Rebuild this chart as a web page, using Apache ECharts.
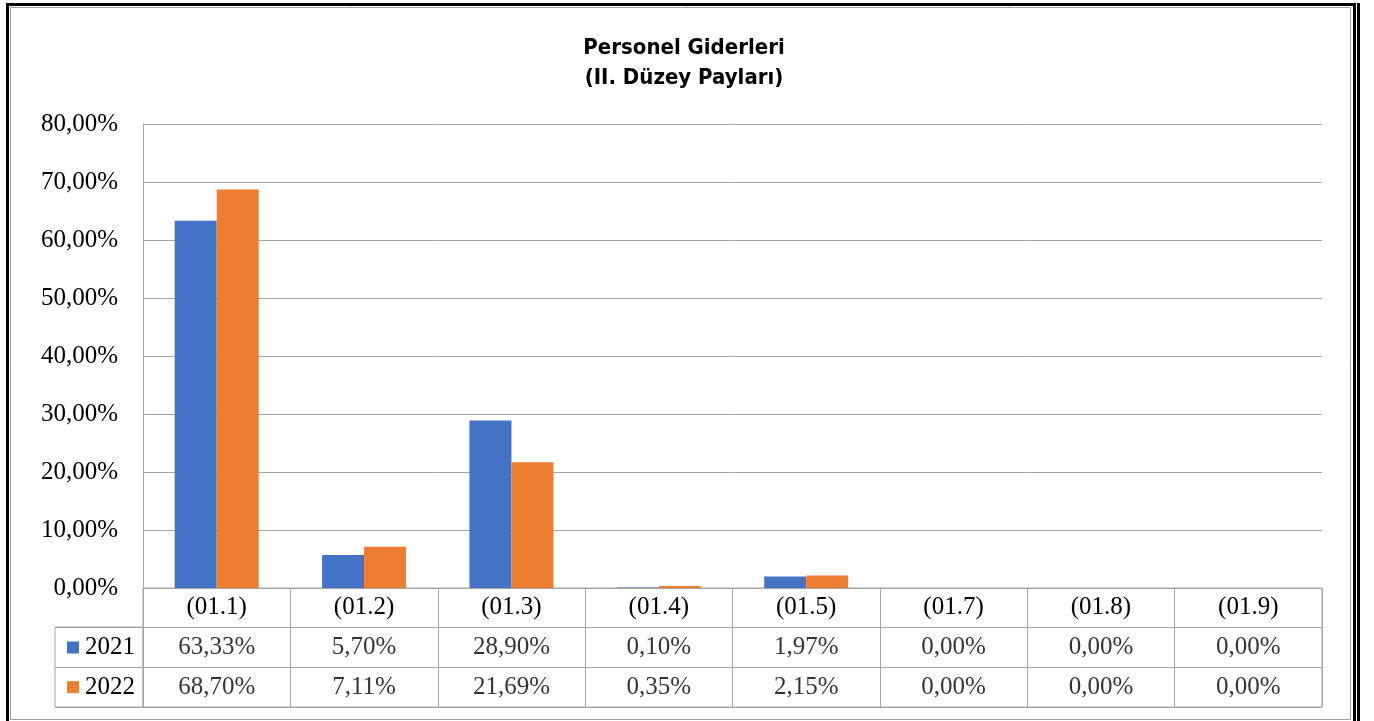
<!DOCTYPE html>
<html>
<head>
<meta charset="utf-8">
<script src="https://cdn.jsdelivr.net/npm/echarts@6/dist/echarts.min.js"></script>
<style>
  html, body { margin: 0; padding: 0; background: #fff; }
  #chart { width: 1374px; height: 721px; }
</style>
</head>
<body>
<div id="chart"></div>
<script>
  // chart data
  var categories = ['(01.1)', '(01.2)', '(01.3)', '(01.4)', '(01.5)', '(01.7)', '(01.8)', '(01.9)'];
  var years = ['2021', '2022'];
  var values2021 = [63.33, 5.70, 28.90, 0.10, 1.97, 0.00, 0.00, 0.00];
  var values2022 = [68.70, 7.11, 21.69, 0.35, 2.15, 0.00, 0.00, 0.00];
  var colors = ['#4472C4', '#ED7D31'];

  var serif = "'Liberation Serif', 'Times New Roman', serif";
  var gridGray = '#a6a6a6';
  var fs = 25;

  function pct(v) {
    return v.toFixed(2).replace('.', ',') + '%';
  }

  var chart = echarts.init(document.getElementById('chart'));

  var tableRows = [values2021, values2022];
  var tableSeries = tableRows.map(function (vals, r) {
    return {
      type: 'scatter',
      xAxisIndex: 1,
      yAxisIndex: 1,
      silent: true,
      symbolSize: 1,
      itemStyle: { color: 'transparent' },
      label: {
        show: true,
        position: 'inside',
        color: '#000',
        fontFamily: serif,
        fontSize: fs,
        formatter: function (p) { return pct(p.value[2]); }
      },
      data: vals.map(function (v, i) { return [i, r + 1, v]; })
    };
  });

  var option = {
    animation: false,
    backgroundColor: '#fff',
    title: {
      text: 'Personel Giderleri\n(II. Düzey Payları)',
      left: 679,
      textAlign: 'center',
      top: 28,
      textStyle: {
        fontFamily: "'Liberation Sans Narrow', 'DejaVu Sans Condensed', Roboto, sans-serif",
        fontWeight: 'bold',
        fontSize: 22,
        lineHeight: 30,
        color: '#000'
      }
    },
    grid: [
      { left: 143, top: 124, width: 1179, height: 464 },
      { left: 143, top: 588, width: 1179, height: 119, show: true, borderColor: gridGray, borderWidth: 1 },
      { left: 55, top: 627, width: 88, height: 80, show: true, borderColor: gridGray, borderWidth: 1 }
    ],
    xAxis: [
      {
        type: 'category', gridIndex: 0, data: categories,
        axisLine: { lineStyle: { color: gridGray } },
        axisTick: { show: false },
        axisLabel: { color: '#000', fontFamily: serif, fontSize: fs, margin: 7 }
      },
      {
        type: 'category', gridIndex: 1, data: categories,
        axisLine: { show: false }, axisTick: { show: false }, axisLabel: { show: false },
        splitLine: { show: true, lineStyle: { color: gridGray } }
      },
      { type: 'value', gridIndex: 2, show: false }
    ],
    yAxis: [
      {
        type: 'value', gridIndex: 0, min: 0, max: 80, interval: 10,
        axisLine: { show: true, lineStyle: { color: gridGray } },
        axisTick: { show: false },
        splitLine: { lineStyle: { color: gridGray } },
        axisLabel: {
          color: '#000', fontFamily: serif, fontSize: fs, margin: 25,
          formatter: function (v) { return pct(v); }
        }
      },
      {
        type: 'category', gridIndex: 1, inverse: true, data: [''].concat(years),
        axisLine: { show: false }, axisTick: { show: false },
        splitLine: { show: true, lineStyle: { color: gridGray } },
        axisLabel: {
          margin: 8,
          formatter: function (v) {
            var i = years.indexOf(v);
            return i < 0 ? '' : '{s' + i + '|}{t|' + v + '}';
          },
          rich: {
            s0: { width: 12, height: 12, backgroundColor: colors[0] },
            s1: { width: 12, height: 12, backgroundColor: colors[1] },
            t: { color: '#000', fontFamily: serif, fontSize: fs, padding: [0, 0, 0, 6] }
          }
        }
      },
      {
        type: 'category', gridIndex: 2, inverse: true, data: years,
        axisLine: { show: false }, axisTick: { show: false }, axisLabel: { show: false },
        splitLine: { show: true, lineStyle: { color: gridGray } }
      }
    ],
    series: [
      {
        name: years[0], type: 'bar', xAxisIndex: 0, yAxisIndex: 0,
        barWidth: 42, barGap: 0,
        itemStyle: { color: colors[0] },
        data: values2021
      },
      {
        name: years[1], type: 'bar', xAxisIndex: 0, yAxisIndex: 0,
        barWidth: 42, barGap: 0,
        itemStyle: { color: colors[1] },
        data: values2022
      }
    ].concat(tableSeries),
    graphic: [
      // double frame around the chart
      { type: 'rect', silent: true, shape: { x: 6, y: 3, width: 1349, height: 3 }, style: { fill: '#000' } },
      { type: 'rect', silent: true, shape: { x: 6, y: 3, width: 3, height: 718 }, style: { fill: '#000' } },
      { type: 'rect', silent: true, shape: { x: 1353, y: 3, width: 3, height: 718 }, style: { fill: '#000' } },
      { type: 'rect', silent: true, shape: { x: 1357, y: 3, width: 3, height: 718 }, style: { fill: '#000' } },
      {
        type: 'rect', silent: true,
        shape: { x: 10.5, y: 7.5, width: 1340, height: 712 },
        style: { fill: 'none', stroke: '#a0a0a0', lineWidth: 1 }
      }
    ]
  };

  chart.setOption(option);
</script>
</body>
</html>
